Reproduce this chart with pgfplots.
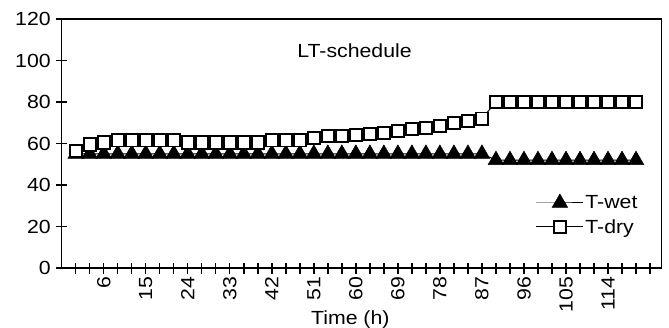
\documentclass[border=0pt]{standalone}
\usepackage{fontspec}
\setmainfont{Liberation Sans}[FakeStretch=1.12]
\usepackage{pgfplots}
\pgfplotsset{compat=1.18}

\pgfplotstableread{
h wet dry
0 55 56.5
3 55 59.5
6 55 60.5
9 55 61.5
12 55 61.5
15 55 61.5
18 55 61.5
21 55 61.5
24 55 60.5
27 55 60.5
30 55 60.5
33 55 60.5
36 55 60.5
39 55 60.5
42 55 61.5
45 55 61.5
48 55 61.5
51 55 62.5
54 55 63.5
57 55 63.5
60 55 64
63 55 64.5
66 55 65
69 55 66
72 55 67
75 55 67.5
78 55 68.5
81 55 70
84 55 71
87 55 72
90 52 80
93 52 80
96 52 80
99 52 80
102 52 80
105 52 80
108 52 80
111 52 80
114 52 80
117 52 80
120 52 80
}\data

\begin{document}
\begin{tikzpicture}
\path[use as bounding box] (-61.7bp,-60bp) rectangle (607.3bp,268bp);
\begin{axis}[
  at={(0,0)}, anchor=south west,
  scale only axis, width=600bp, height=249bp,
  xmin=-3, xmax=125.5, ymin=0, ymax=120,
  ytick={0,20,...,120},
  xtick={6,15,...,114},
  minor xtick={0,3,...,123},
  axis line style={line width=1.4bp},
  every tick/.style={black, line width=1.4bp},
  tick align=center,
  major tick length=11bp, minor tick length=11bp,
  xtick pos=bottom, ytick pos=left,
  font=\fontsize{19bp}{22bp}\selectfont,
  /pgf/number format/assume math mode=true,
  xticklabel style={rotate=90, anchor=east, font=\fontsize{19bp}{22bp}\selectfont},
  yticklabel style={font=\fontsize{19bp}{22bp}\selectfont, xshift=-2bp},
  xlabel={Time (h)},
  xlabel style={at={(axis description cs:0.481,0)}, anchor=base, yshift=-56.5bp, font=\fontsize{19bp}{22bp}\selectfont},
  legend style={draw=none, fill=none, at={(0.790,0.298)}, anchor=north west,
    font=\fontsize{19bp}{22bp}\selectfont, row sep=6bp, inner sep=0pt,
    nodes={inner sep=1.5bp}},
  legend cell align=left,
  legend image code/.code={\draw[mark repeat=2,mark phase=2,#1] plot coordinates {(0bp,0bp) (23.5bp,0bp) (47bp,0bp)};},
]
\addplot[black, line width=1bp, mark=triangle*, mark size=9bp,
  mark options={fill=black, line width=0.5bp, solid}] table[x=h, y=wet] {\data};
\addlegendentry{T-wet}
\addplot[black, line width=1bp, mark=square*, mark size=6.1bp,
  mark options={fill=white, line width=1.9bp, solid}] table[x=h, y=dry] {\data};
\addlegendentry{T-dry}
\node[anchor=base, font=\fontsize{19bp}{22bp}\selectfont] at (rel axis cs:0.488,0.847) {LT-schedule};
\end{axis}
\end{tikzpicture}
\end{document}
